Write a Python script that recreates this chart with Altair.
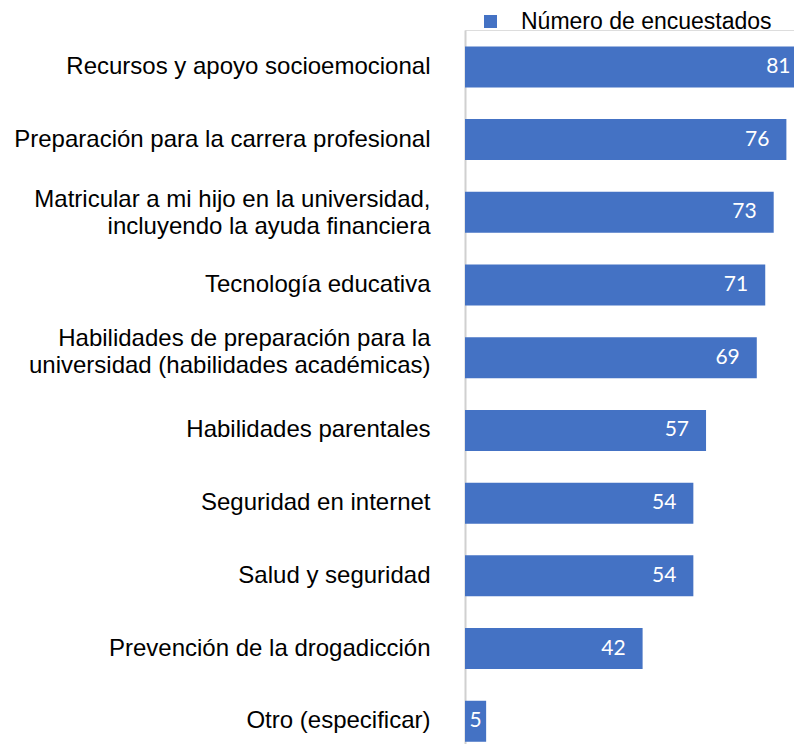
import altair as alt
import pandas as pd

categories = [
    "Recursos y apoyo socioemocional",
    "Preparación para la carrera profesional",
    "Matricular a mi hijo en la universidad,\nincluyendo la ayuda financiera",
    "Tecnología educativa",
    "Habilidades de preparación para la\nuniversidad (habilidades académicas)",
    "Habilidades parentales",
    "Seguridad en internet",
    "Salud y seguridad",
    "Prevención de la drogadicción",
    "Otro (especificar)",
]
values = [81, 76, 73, 71, 69, 57, 54, 54, 42, 5]
series_name = "Número de encuestados"

df = pd.DataFrame({"cat": categories, "value": values, "series": [series_name] * len(values)})

BLUE = "#4472C4"

y_enc = alt.Y(
    "cat:N",
    sort=categories,
    title=None,
    scale=alt.Scale(paddingInner=0.436, paddingOuter=0.128, align=0.88),
    axis=alt.Axis(
        ticks=False,
        labelExpr="split(datum.label, '\\n')",
        labelFont="Liberation Sans",
        labelFontSize=24,
        labelColor="#000000",
        labelLineHeight=27,
        labelPadding=35,
        labelLimit=600,
        labelOffset={
            "condition": [
                {"test": "indexof(datum.label, 'Matricular') == 0", "value": -12},
                {"test": "indexof(datum.label, 'Habilidades de') == 0", "value": -19},
            ],
            "value": 0,
        },
        domainColor="#d0d0d0",
        domainWidth=2,
        grid=False,
    ),
)

x_scale = alt.Scale(domain=[0, 77.8], nice=False, zero=True)

bars = alt.Chart(df).mark_bar(clip=True).encode(
    x=alt.X("value:Q", scale=x_scale, axis=None),
    y=y_enc,
    color=alt.Color(
        "series:N",
        scale=alt.Scale(range=[BLUE]),
        legend=alt.Legend(
            orient="none",
            legendX=14,
            legendY=-20,
            title=None,
            symbolType="square",
            symbolSize=169,
            symbolStrokeWidth=0,
            labelFont="Liberation Sans",
            labelFontSize=23,
            labelColor="#000000",
            labelOffset=19,
            labelLimit=400,
            padding=0,
        ),
    ),
)

text_big = alt.Chart(df).transform_filter("datum.value >= 10").mark_text(
    align="right", baseline="middle", dx=-17, color="white", font="Lato", fontSize=21
).encode(
    x=alt.X("value:Q", scale=x_scale),
    y=alt.Y("cat:N", sort=categories),
    text="value:Q",
)

text_small = alt.Chart(df).transform_filter("datum.value < 10").transform_calculate(
    mid="datum.value / 2"
).mark_text(
    align="center", baseline="middle", color="white", font="Lato", fontSize=21
).encode(
    x=alt.X("mid:Q", scale=x_scale),
    y=alt.Y("cat:N", sort=categories),
    text="value:Q",
)

chart = alt.layer(bars, text_big, text_small).properties(
    width=329,
    height=714,
    autosize=alt.AutoSizeParams(type="none"),
    padding={"left": 457, "top": 22, "right": 0, "bottom": 0},
).configure_view(stroke=None).configure(background="white")

chart.save("out.html", embed_options={"renderer": "svg", "actions": False})
